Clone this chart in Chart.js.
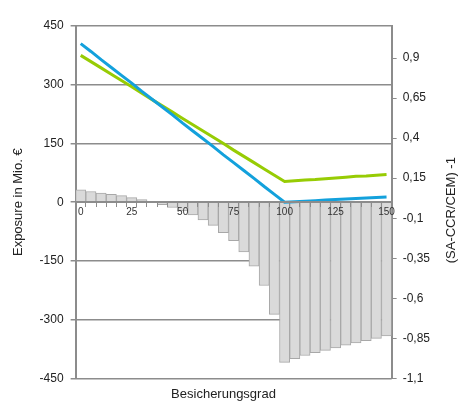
<!DOCTYPE html>
<html lang="de">
<head>
  <meta charset="UTF-8" />
  <title>Exposure vs. Besicherungsgrad</title>
  <script src="https://cdn.jsdelivr.net/npm/chart.js"></script>
  <style>
    body { margin: 0; background: #fff; }
    #wrap { width: 472px; height: 406px; }
  </style>
</head>
<body>
  <div id="wrap"><canvas id="chart"></canvas></div>

  <script>
    // Besicherungsgrad in %
    const categories = [0, 5, 10, 15, 20, 25, 30, 35, 40, 45, 50, 55, 60, 65, 70, 75,
      80, 85, 90, 95, 100, 105, 110, 115, 120, 125, 130, 135, 140, 145, 150];

    // Exposure in Mio. EUR (left axis)
    const saCcr = [405, 385, 364, 344, 324, 304, 283, 263, 243, 223, 202, 182, 162, 142, 121, 101,
      81, 61, 40, 20, 0, 1.4, 2.7, 4, 5.4, 6.8, 8.1, 9.5, 10.8, 12.2, 13.5];
    const cem = [375, 359, 343, 327, 311, 295, 278, 262, 246, 230, 214, 198, 182, 166, 150, 133,
      117, 101, 85, 69, 53, 55, 57, 58, 60, 62, 64, 66, 67, 69, 71];

    // (SA-CCR/CEM) - 1 (right axis)
    const ratio = [0.078, 0.067, 0.057, 0.049, 0.041, 0.029, 0.016, 0.003, -0.015, -0.033, -0.055,
      -0.08, -0.11, -0.145, -0.19, -0.24, -0.31, -0.4, -0.52, -0.7, -1.0, -0.977, -0.957, -0.94,
      -0.925, -0.91, -0.893, -0.878, -0.865, -0.85, -0.835];

    const leftTicks = [-450, -300, -150, 0, 150, 300, 450];
    const rightTicks = [-1.1, -0.85, -0.6, -0.35, -0.1, 0.15, 0.4, 0.65, 0.9];
    const rightTickLabels = ['-1,1', '-0,85', '-0,6', '-0,35', '-0,1', '0,15', '0,4', '0,65', '0,9'];
    const xLabelEvery = [0, 25, 50, 75, 100, 125, 150];

    const axisGray = '#8c8c8c';
    const font = 'Liberation Sans, Arial, sans-serif';

    // right axis title reads bottom-to-top like the left one
    const rightTitle = {
      id: 'rightTitle',
      afterDraw(chart) {
        const ctx = chart.ctx;
        const area = chart.chartArea;
        ctx.save();
        ctx.translate(chart.width - 21, (area.top + area.bottom) / 2 + 8);
        ctx.rotate(-Math.PI / 2);
        ctx.font = '13px ' + font;
        ctx.fillStyle = '#222';
        ctx.textAlign = 'center';
        ctx.textBaseline = 'middle';
        ctx.fillText('(SA-CCR/CEM) -1', 0, 0);
        ctx.restore();
      }
    };

    new Chart(document.getElementById('chart'), {
      type: 'bar',
      data: {
        labels: categories,
        datasets: [
          {
            type: 'line',
            label: 'SA-CCR',
            data: saCcr,
            yAxisID: 'y',
            borderColor: '#13a1dc',
            borderWidth: 3,
            pointRadius: 0,
            tension: 0,
            order: 0
          },
          {
            type: 'line',
            label: 'CEM',
            data: cem,
            yAxisID: 'y',
            borderColor: '#97cc04',
            borderWidth: 3,
            pointRadius: 0,
            tension: 0,
            order: 1
          },
          {
            label: '(SA-CCR/CEM) -1',
            data: ratio,
            yAxisID: 'y1',
            backgroundColor: '#dadada',
            borderColor: '#a8a8a8',
            borderWidth: 1,
            barPercentage: 1,
            categoryPercentage: 1,
            order: 2
          }
        ]
      },
      options: {
        responsive: true,
        maintainAspectRatio: false,
        animation: false,
        layout: { padding: { top: 26, right: 36, left: 11 } },
        plugins: {
          legend: { display: false },
          tooltip: { enabled: false },
          title: {
            display: true,
            position: 'bottom',
            text: 'Besicherungsgrad',
            color: '#222',
            font: { family: font, size: 13, weight: 'normal' },
            padding: { top: 8, bottom: 4 }
          }
        },
        scales: {
          x: {
            position: { y: 0 },
            // axis line, tick marks and labels sit on top of the bars
            grid: { z: 1, drawOnChartArea: false, drawTicks: true, tickLength: 4, color: axisGray, lineWidth: 1 },
            border: { z: 1, display: true, color: axisGray, width: 2 },
            ticks: {
              z: 1,
              autoSkip: false,
              maxRotation: 0,
              padding: 0,
              color: '#333',
              font: { family: font, size: 10 },
              callback: function (v, i) {
                const c = categories[i];
                return xLabelEvery.includes(c) ? String(c) : '';
              }
            }
          },
          y: {
            position: 'left',
            min: -450,
            max: 450,
            afterBuildTicks: axis => { axis.ticks = leftTicks.map(v => ({ value: v })); },
            grid: { color: axisGray, lineWidth: 1.5, tickLength: 5 },
            border: { display: true, color: axisGray, width: 2 },
            ticks: { color: '#222', font: { family: font, size: 12 }, padding: 7 },
            title: {
              display: true,
              text: 'Exposure in Mio. €',
              color: '#222',
              font: { family: font, size: 13 },
              padding: { top: 0, bottom: 6 }
            }
          },
          y1: {
            position: 'right',
            min: -1.1,
            max: 1.1,
            afterBuildTicks: axis => { axis.ticks = rightTicks.map(v => ({ value: v })); },
            grid: { drawOnChartArea: false, color: axisGray, lineWidth: 1, tickLength: 5 },
            border: { display: true, color: axisGray, width: 2 },
            ticks: {
              color: '#222',
              font: { family: font, size: 12 },
              padding: 6,
              callback: (v, i) => rightTickLabels[i]
            }
          }
        }
      },
      plugins: [rightTitle]
    });
  </script>
</body>
</html>
